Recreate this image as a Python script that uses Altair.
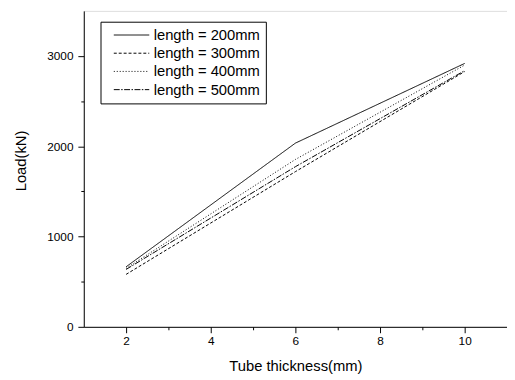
import altair as alt
import pandas as pd

thickness = [2, 6, 10]
series_names = ["length = 200mm", "length = 300mm", "length = 400mm", "length = 500mm"]
load_200 = [665, 2035, 2918]
load_300 = [581, 1719, 2828]
load_400 = [648, 1854, 2900]
load_500 = [636, 1774, 2838]

dash_styles = [[1, 0], [3, 2], [1, 2], [6, 1.5, 1.5, 1.5]]

rows = []
for name, vals in zip(series_names, [load_200, load_300, load_400, load_500]):
    for t, v in zip(thickness, vals):
        rows.append({"thickness": t, "load": v, "series": name})
df = pd.DataFrame(rows)

FONT = "Liberation Sans"

common_axis = dict(
    grid=False,
    labelFontSize=12,
    labelFont=FONT,
    labelColor="black",
    titleFont=FONT,
    titleFontSize=15,
    titleFontWeight="normal",
    titleColor="black",
    titleBaseline="middle",
    domainColor="black",
    tickColor="black",
    domainWidth=1,
    tickWidth=1,
)

x_axis = alt.Axis(
    title="Tube thickness(mm)",
    values=[2, 3, 4, 5, 6, 7, 8, 9, 10],
    labelExpr="datum.value % 2 === 0 ? datum.label : ''",
    tickSize={"condition": {"test": "datum.value % 2 !== 0", "value": 3}, "value": 6},
    labelPadding=3,
    titleY=39,
    **common_axis,
)
y_axis = alt.Axis(
    title="Load(kN)",
    values=[0, 500, 1000, 1500, 2000, 2500, 3000],
    labelExpr="datum.value % 1000 === 0 ? datum.label : ''",
    format="d",
    tickSize={"condition": {"test": "datum.value % 1000 !== 0", "value": 3}, "value": 6},
    labelPadding=5,
    titleX=-64,
    titleY=152,
    **common_axis,
)

chart = (
    alt.Chart(df)
    .mark_line(color="black", strokeWidth=1, clip=True)
    .encode(
        x=alt.X("thickness:Q", scale=alt.Scale(domain=[1, 11], nice=False, zero=False), axis=x_axis),
        y=alt.Y("load:Q", scale=alt.Scale(domain=[0, 3500], nice=False), axis=y_axis),
        strokeDash=alt.StrokeDash(
            "series:N",
            scale=alt.Scale(domain=series_names, range=dash_styles),
            legend=alt.Legend(
                title=None,
                orient="none",
                legendX=17,
                legendY=11,
                strokeColor="black",
                fillColor="white",
                padding=6,
                labelFontSize=15,
                labelFont=FONT,
                labelColor="black",
                labelOffset=33,
                symbolType="M0,0H8",
                symbolSize=81,
                symbolStrokeColor="black",
                symbolStrokeWidth=1,
                rowPadding=2.5,
                cornerRadius=0,
            ),
        ),
        detail="series:N",
    )
    .properties(
        width=430,
        height=321,
        autosize=alt.AutoSizeParams(type="none"),
        padding={"left": 77, "top": 0, "right": 0, "bottom": 45},
    )
    .configure_view(stroke="black", strokeWidth=1)
    .configure(background="white")
)

chart.save("out.html", embed_options={"renderer": "svg", "actions": False})
